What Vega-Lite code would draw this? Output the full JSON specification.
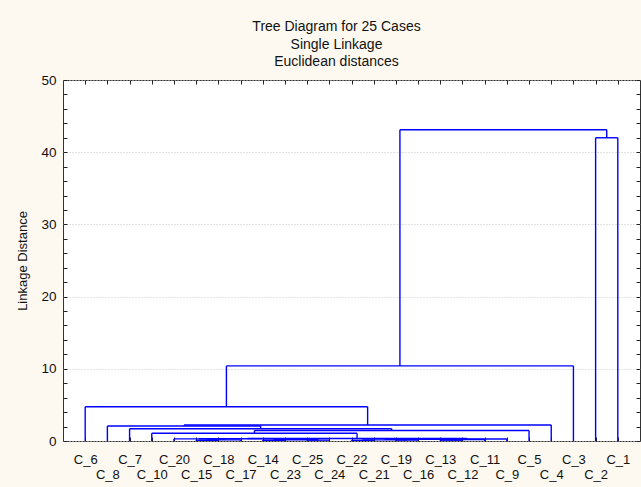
{
  "$schema": "https://vega.github.io/schema/vega-lite/v6.json",
  "width": 577,
  "height": 361,
  "autosize": {"type": "none"},
  "padding": {"left": 63, "top": 80, "right": 1, "bottom": 46},
  "background": "#FDF9F1",
  "title": {
    "text": ["Tree Diagram for 25 Cases", "Single Linkage", "Euclidean distances"],
    "anchor": "middle",
    "dx": -15,
    "offset": 4,
    "font": "Liberation Sans",
    "fontSize": 14,
    "fontWeight": "normal",
    "lineHeight": 17.5,
    "color": "#111111"
  },
  "data": {
    "values": [
      {"node": "n1", "xl": 6, "xr": 7, "hl": 0, "hr": 0, "h": 0.10},
      {"node": "n2", "xl": 6.5, "xr": 8, "hl": 0.10, "hr": 0, "h": 0.16},
      {"node": "n3", "xl": 5, "xr": 7.25, "hl": 0, "hr": 0.16, "h": 0.30},
      {"node": "n4", "xl": 9, "xr": 10, "hl": 0, "hr": 0, "h": 0.10},
      {"node": "n5", "xl": 11, "xr": 12, "hl": 0, "hr": 0, "h": 0.12},
      {"node": "n6", "xl": 9.5, "xr": 11.5, "hl": 0.10, "hr": 0.12, "h": 0.18},
      {"node": "n14", "xl": 6.125, "xr": 10.5, "hl": 0.30, "hr": 0.18, "h": 0.31},
      {"node": "n7", "xl": 13, "xr": 14, "hl": 0, "hr": 0, "h": 0.10},
      {"node": "n8", "xl": 15, "xr": 16, "hl": 0, "hr": 0, "h": 0.13},
      {"node": "n9", "xl": 13.5, "xr": 15.5, "hl": 0.10, "hr": 0.13, "h": 0.16},
      {"node": "n10", "xl": 17, "xr": 18, "hl": 0, "hr": 0, "h": 0.11},
      {"node": "n11", "xl": 17.5, "xr": 19, "hl": 0.11, "hr": 0, "h": 0.20},
      {"node": "n12", "xl": 14.5, "xr": 18.25, "hl": 0.16, "hr": 0.20, "h": 0.22},
      {"node": "n13", "xl": 16.375, "xr": 20, "hl": 0.22, "hr": 0, "h": 0.27},
      {"node": "I", "xl": 8.3125, "xr": 18.1875, "hl": 0.31, "hr": 0.27, "h": 0.34},
      {"node": "H", "xl": 4, "xr": 13.25, "hl": 0, "hr": 0.34, "h": 1.07},
      {"node": "G", "xl": 8.625, "xr": 21, "hl": 1.07, "hr": 0, "h": 1.45},
      {"node": "F", "xl": 3, "xr": 14.8125, "hl": 0, "hr": 1.45, "h": 1.70},
      {"node": "E", "xl": 2, "xr": 8.90625, "hl": 0, "hr": 1.70, "h": 2.08},
      {"node": "D", "xl": 5.453125, "xr": 22, "hl": 2.08, "hr": 0, "h": 2.22},
      {"node": "B", "xl": 1, "xr": 13.7265625, "hl": 0, "hr": 2.22, "h": 4.75},
      {"node": "A", "xl": 7.36328125, "xr": 23, "hl": 4.75, "hr": 0, "h": 10.4},
      {"node": "P", "xl": 24, "xr": 25, "hl": 0, "hr": 0, "h": 42.0},
      {"node": "Root", "xl": 15.181640625, "xr": 24.5, "hl": 10.4, "hr": 42.0, "h": 43.1}
    ]
  },
  "resolve": {"axis": {"x": "independent", "y": "independent"}},
  "layer": [
    {
      "mark": {"type": "rule", "color": "#0000ff", "strokeWidth": 1.4},
      "encoding": {
        "x": {
          "field": "xl", "type": "quantitative",
          "scale": {"domain": [0, 26], "nice": false, "zero": false},
          "axis": {
            "orient": "bottom", "title": null, "ticks": false, "grid": false,
            "values": [1,2,3,4,5,6,7,8,9,10,11,12,13,14,15,16,17,18,19,20,21,22,23,24,25],
            "labelExpr": "['', 'C_6', ['', 'C_8'], 'C_7', ['', 'C_10'], 'C_20', ['', 'C_15'], 'C_18', ['', 'C_17'], 'C_14', ['', 'C_23'], 'C_25', ['', 'C_24'], 'C_22', ['', 'C_21'], 'C_19', ['', 'C_16'], 'C_13', ['', 'C_12'], 'C_11', ['', 'C_9'], 'C_5', ['', 'C_4'], 'C_3', ['', 'C_2'], 'C_1'][datum.value]",
            "labelFontSize": 13, "labelPadding": 12, "labelLineHeight": 15,
            "labelBaseline": "top", "labelAngle": 0, "labelOverlap": false,
            "labelFlush": false, "labelBound": false
          }
        },
        "x2": {"field": "xr"},
        "y": {
          "field": "h", "type": "quantitative",
          "scale": {"domain": [0, 50], "nice": false, "zero": true},
          "axis": {
            "orient": "left", "title": "Linkage Distance", "ticks": false,
            "values": [0, 10, 20, 30, 40, 50], "format": "d",
            "grid": true, "gridColor": "#c4c4c4", "gridDash": [1, 2], "gridWidth": 1,
            "labelFontSize": 13.5, "labelPadding": 7,
            "titleFontSize": 13, "titleFontWeight": "normal", "titlePadding": 11
          }
        }
      }
    },
    {
      "mark": {"type": "rule", "color": "#0000ff", "strokeWidth": 1.4},
      "encoding": {
        "x": {
          "field": "xl", "type": "quantitative",
          "axis": {
            "orient": "top", "title": null, "labels": false, "grid": false,
            "ticks": true, "tickSize": -4, "tickColor": "#222222",
            "values": [1,2,3,4,5,6,7,8,9,10,11,12,13,14,15,16,17,18,19,20,21,22,23,24,25]
          }
        },
        "y": {
          "field": "hl", "type": "quantitative",
          "axis": {
            "orient": "right", "title": null, "labels": false, "grid": false,
            "ticks": true, "tickSize": -4, "tickColor": "#222222",
            "values": [0,2,4,6,8,10,12,14,16,18,20,22,24,26,28,30,32,34,36,38,40,42,44,46,48,50]
          }
        },
        "y2": {"field": "h"}
      }
    },
    {
      "mark": {"type": "rule", "color": "#0000ff", "strokeWidth": 1.4},
      "encoding": {
        "x": {
          "field": "xr", "type": "quantitative",
          "axis": {
            "orient": "bottom", "title": null, "labels": false, "grid": false,
            "ticks": true, "tickSize": -4, "tickColor": "#222222",
            "values": [1,2,3,4,5,6,7,8,9,10,11,12,13,14,15,16,17,18,19,20,21,22,23,24,25]
          }
        },
        "y": {
          "field": "hr", "type": "quantitative",
          "axis": {
            "orient": "left", "title": null, "labels": false, "grid": false,
            "ticks": true, "tickSize": -4, "tickColor": "#222222",
            "values": [0,2,4,6,8,10,12,14,16,18,20,22,24,26,28,30,32,34,36,38,40,42,44,46,48,50]
          }
        },
        "y2": {"field": "h"}
      }
    }
  ],
  "config": {
    "view": {"fill": "#ffffff", "stroke": "#333333", "strokeWidth": 1},
    "axis": {
      "domain": false,
      "labelFont": "Liberation Sans",
      "titleFont": "Liberation Sans",
      "labelColor": "#111111",
      "titleColor": "#111111"
    }
  }
}
